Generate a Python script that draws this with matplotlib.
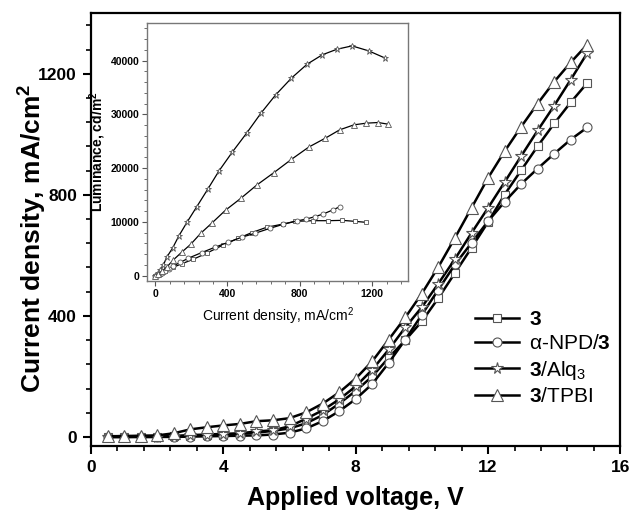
import matplotlib
matplotlib.use("Agg")
import matplotlib.pyplot as plt
from matplotlib.ticker import MultipleLocator

plt.rcParams['font.family'] = ['Liberation Sans', 'DejaVu Sans']
plt.rcParams['mathtext.fontset'] = 'custom'
plt.rcParams['mathtext.rm'] = 'Liberation Sans'
plt.rcParams['mathtext.bf'] = 'Liberation Sans:bold'
plt.rcParams['mathtext.it'] = 'Liberation Sans:italic'

# main panel: current density vs voltage
voltage = [0.5, 1, 1.5, 2, 2.5, 3, 3.5, 4, 4.5, 5, 5.5, 6, 6.5, 7, 7.5,
           8, 8.5, 9, 9.5, 10, 10.5, 11, 11.5, 12, 12.5, 13, 13.5, 14, 14.5, 15]
j_3 = [0, 0, 0, 0, 2, 4, 6, 8, 10, 14, 20, 28, 45, 72, 110,
       152, 200, 262, 320, 382, 459, 542, 625, 710, 801, 881, 961, 1036, 1106, 1170]
j_npd = [0, 0, 0, 0, 0, 1, 2, 3, 4, 5, 8, 14, 28, 52, 85,
         125, 175, 245, 322, 404, 487, 570, 641, 713, 777, 836, 887, 936, 983, 1023]
j_alq = [0, 0, 1, 1, 3, 6, 8, 10, 12, 18, 22, 35, 60, 88, 124,
         167, 222, 289, 362, 429, 507, 588, 674, 757, 842, 928, 1013, 1095, 1181, 1269]
j_tpbi = [2, 3, 4, 5, 12, 25, 32, 38, 43, 52, 55, 62, 81, 110, 147,
          193, 250, 322, 395, 474, 562, 658, 757, 856, 944, 1025, 1102, 1174, 1238, 1297]

# inset: luminance vs current density
ins_x_3 = [0, 28, 55, 101, 147, 212, 285, 377, 460, 534, 616, 708, 773, 874, 957, 1036, 1104, 1168]
ins_y_3 = [0, 309, 802, 1604, 2221, 3085, 4196, 5738, 6972, 8021, 9008, 9626, 10119, 10243,
           10243, 10305, 10119, 9934]
ins_x_npd = [0, 18, 37, 55, 74, 101, 138, 184, 258, 331, 405, 478, 552, 635, 708, 782, 837,
             883, 929, 981, 1021]
ins_y_npd = [0, 185, 494, 802, 1234, 1851, 2468, 3270, 4319, 5306, 6232, 7157, 7898, 8823,
             9564, 10181, 10551, 10983, 11476, 12217, 12834]
ins_x_alq = [0, 18, 28, 46, 64, 96, 132, 178, 230, 291, 353, 427, 506, 585, 666, 754, 841,
             924, 1006, 1089, 1181, 1273]
ins_y_alq = [0, 494, 1110, 2036, 3455, 5121, 7466, 10057, 12834, 16104, 19497, 23014, 26531,
             30233, 33627, 36773, 39365, 41092, 42141, 42758, 41833, 40476]
ins_x_tpbi = [0, 18, 37, 64, 101, 147, 197, 252, 316, 390, 473, 561, 657, 754, 850, 942, 1021,
              1100, 1168, 1233, 1288]
ins_y_tpbi = [0, 309, 802, 1604, 2962, 4381, 5862, 7898, 9872, 12217, 14376, 16844, 19189,
              21657, 23940, 25606, 27148, 28074, 28382, 28505, 28197]

labels = [r'$\mathbf{3}$', r'α-NPD/$\mathbf{3}$', r'$\mathbf{3}$/Alq$_3$', r'$\mathbf{3}$/TPBI']
markers = ['s', 'o', '*', '^']
msizes = [6, 6.5, 8.5, 8]

fig = plt.figure(figsize=(6.31, 5.13), dpi=100)
ax = fig.add_axes([0.1442, 0.1306, 0.839, 0.8434])

for yv, lab, mk, ms in zip([j_3, j_npd, j_alq, j_tpbi], labels, markers, msizes):
    ax.plot(voltage, yv, color='black', lw=1.8, marker=mk, ms=ms, mfc='white',
            mec='#555555', mew=0.8, label=lab)

ax.set_xlim(0, 16)
ax.set_ylim(-30, 1400)
ax.xaxis.set_major_locator(MultipleLocator(4))
ax.xaxis.set_minor_locator(MultipleLocator(0.8))
ax.yaxis.set_major_locator(MultipleLocator(400))
ax.yaxis.set_minor_locator(MultipleLocator(80))
ax.tick_params(which='major', length=6, width=1.5, labelsize=12.5, pad=4)
ax.tick_params(which='minor', length=3.5, width=1.2)
for lbl in ax.get_xticklabels() + ax.get_yticklabels():
    lbl.set_fontweight('bold')
for sp in ax.spines.values():
    sp.set_linewidth(1.6)
ax.set_xlabel('Applied voltage, V', fontsize=18, fontweight='bold')
ax.set_ylabel(r'Current density, mA/cm$^\mathbf{2}$', fontsize=19, fontweight='bold')
ax.xaxis.set_label_coords(0.5, -0.092)
ax.yaxis.set_label_coords(-0.08, 0.48)

leg = ax.legend(loc='upper left', bbox_to_anchor=(0.69, 0.357), frameon=False, fontsize=15,
                handlelength=2.1, handletextpad=0.5, labelspacing=0.25)

# inset
ins = fig.add_axes([0.233, 0.452, 0.414, 0.503])
for xv, yv, mk, ms in zip([ins_x_3, ins_x_npd, ins_x_alq, ins_x_tpbi],
                          [ins_y_3, ins_y_npd, ins_y_alq, ins_y_tpbi], markers, [3.2, 3.6, 5, 4.5]):
    ins.plot(xv, yv, color='black', lw=0.9, marker=mk, ms=ms, mfc='white', mec='#555555', mew=0.6)
ins.set_xlim(-45, 1400)
ins.set_ylim(-1000, 47000)
ins.xaxis.set_major_locator(MultipleLocator(400))
ins.xaxis.set_minor_locator(MultipleLocator(80))
ins.yaxis.set_major_locator(MultipleLocator(10000))
ins.yaxis.set_minor_locator(MultipleLocator(2000))
ins.tick_params(which='major', length=3.5, width=0.8, labelsize=7.5, pad=2, color='#555555')
ins.tick_params(which='minor', length=2, width=0.6, color='#555555')
for lbl in ins.get_xticklabels() + ins.get_yticklabels():
    lbl.set_fontweight('bold')
for sp in ins.spines.values():
    sp.set_linewidth(1.0)
    sp.set_color('#777777')
ins.set_xlabel(r'Current density, mA/cm$^2$', fontsize=10, labelpad=5)
ins.set_ylabel(r'Luminance, cd/m$^\mathbf{2}$', fontsize=10, fontweight='bold', labelpad=2)

fig.savefig('out.png', dpi=100)
